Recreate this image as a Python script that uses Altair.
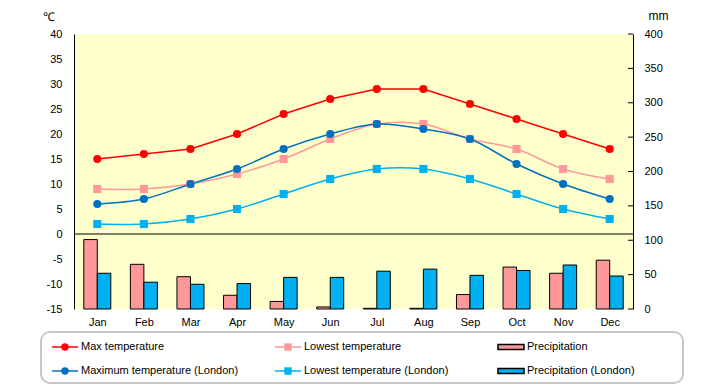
import altair as alt
import pandas as pd

months = ["Jan", "Feb", "Mar", "Apr", "May", "Jun", "Jul", "Aug", "Sep", "Oct", "Nov", "Dec"]
max_temp = [15, 16, 17, 20, 24, 27, 29, 29, 26, 23, 20, 17]
low_temp = [9, 9, 10, 12, 15, 19, 22, 22, 19, 17, 13, 11]
ldn_max = [6, 7, 10, 13, 17, 20, 22, 21, 19, 14, 10, 7]
ldn_low = [2, 2, 3, 5, 8, 11, 13, 13, 11, 8, 5, 3]
precip = [101, 65, 47, 20, 11, 3, 1, 1, 21, 61, 52, 71]
ldn_precip = [52, 39, 36, 37, 46, 46, 55, 58, 49, 56, 64, 48]

temp_series = ["Max temperature", "Lowest temperature",
               "Maximum temperature (London)", "Lowest temperature (London)"]
temp_colors = ["#FF0000", "#FF9999", "#0070C0", "#00B0F0"]
temp_shapes = ["circle", "square", "circle", "square"]
precip_series = ["Precipitation", "Precipitation (London)"]
precip_colors = ["#FF9999", "#00B0F0"]
temp_ticks = list(range(-15, 45, 5))
precip_ticks = list(range(0, 450, 50))

W, H = 559, 275
FONT = "Liberation Sans"

temp_rows = []
for si, (s, vals) in enumerate(zip(temp_series, [max_temp, low_temp, ldn_max, ldn_low])):
    for m, v in zip(months, vals):
        temp_rows.append({"month": m, "series": s, "value": v, "ord": si})
temp_df = pd.DataFrame(temp_rows)

precip_rows = []
for s, vals in zip(precip_series, [precip, ldn_precip]):
    for m, v in zip(months, vals):
        precip_rows.append({"month": m, "series": s, "value": v})
precip_df = pd.DataFrame(precip_rows)

# ---- precipitation bars (right axis)
bx = alt.X("month:N", sort=months,
           scale=alt.Scale(type="band", domain=months, paddingInner=0, paddingOuter=0),
           axis=None)
py_scale = alt.Scale(domain=[0, 400], nice=False, zero=True)
py_axis = alt.Axis(orient="right", values=precip_ticks, ticks=False, grid=False,
                   labelOverlap=False, labelFlush=False,
                   domainColor="black", domainWidth=1, labelPadding=11,
                   labelFontSize=11, labelFont=FONT, labelColor="black",
                   title="mm", titleAngle=0, titleX=25, titleY=-15,
                   titleAlign="center", titleBaseline="alphabetic",
                   titleFontSize=12, titleFont=FONT, titleFontWeight="normal",
                   titleColor="black")
bars = alt.Chart(precip_df).mark_bar(stroke="black", strokeWidth=1).encode(
    x=bx,
    xOffset=alt.XOffset("series:N", sort=precip_series,
                        scale=alt.Scale(domain=precip_series, paddingInner=0, paddingOuter=0.725)),
    y=alt.Y("value:Q", scale=py_scale, axis=py_axis),
    fill=alt.Fill("series:N", scale=alt.Scale(domain=precip_series, range=precip_colors),
                  legend=None),
)
rtick_df = pd.DataFrame({"value": precip_ticks})
rticks = alt.Chart(rtick_df).mark_rule(color="black", strokeWidth=1).encode(
    y=alt.Y("value:Q", scale=py_scale, axis=py_axis),
    x=alt.value(W - 5),
    x2=alt.value(W),
)
bar_group = alt.layer(bars, rticks)

# ---- temperature lines (left axis)
tx_axis = alt.Axis(orient="bottom", ticks=False, domain=False, labelAngle=0,
                   labelOverlap=False, labelPadding=7, labelFontSize=11, labelFont=FONT,
                   labelColor="black", title=None)
tx = alt.X("month:N", sort=months,
           scale=alt.Scale(type="point", domain=months, padding=0.5), axis=tx_axis)
ty_scale = alt.Scale(domain=[-15, 40], nice=False, zero=False)
ty_axis = alt.Axis(orient="left", values=temp_ticks, ticks=False, grid=False,
                   labelOverlap=False, labelFlush=False, labelExpr="'' + datum.value",
                   domainColor="black", domainWidth=1, labelPadding=12,
                   labelFontSize=11, labelFont=FONT, labelColor="black",
                   title="℃", titleAngle=0, titleX=-26, titleY=-14,
                   titleAlign="center", titleBaseline="alphabetic",
                   titleFontSize=12, titleFont=FONT, titleFontWeight="normal",
                   titleColor="black")
ty = alt.Y("value:Q", scale=ty_scale, axis=ty_axis)
tcolor = alt.Color("series:N", scale=alt.Scale(domain=temp_series, range=temp_colors),
                   legend=None)
zero_rule = alt.Chart(temp_df).transform_aggregate(
    value="min(ord)").mark_rule(color="black", strokeWidth=1).encode(y=ty)
# the local maximum line is drawn straight, the others smoothed
line_red = alt.Chart(temp_df).transform_filter(
    alt.datum.series == temp_series[0]).mark_line(strokeWidth=1.5).encode(
    x=tx, y=ty, color=tcolor)
lines_smooth = alt.Chart(temp_df).transform_filter(
    alt.datum.series != temp_series[0]).mark_line(
    interpolate="catmull-rom", strokeWidth=1.5).encode(
    x=tx, y=ty, color=tcolor, detail="series:N", order=alt.Order("ord:Q"))
points = alt.Chart(temp_df).mark_point(filled=True, opacity=1, size=66, strokeWidth=0).encode(
    x=tx, y=ty,
    color=tcolor,
    shape=alt.Shape("series:N", scale=alt.Scale(domain=temp_series, range=temp_shapes),
                    legend=None),
    order=alt.Order("ord:Q"))
temp_group = alt.layer(zero_rule, line_red, lines_smooth, points)

# ---- custom legend below the plot
leg_labels = [temp_series[0], temp_series[1], precip_series[0],
              temp_series[2], temp_series[3], precip_series[1]]
leg_colors = [temp_colors[0], temp_colors[1], precip_colors[0],
              temp_colors[2], temp_colors[3], precip_colors[1]]
leg_kinds = ["circle", "square", "bar", "circle", "square", "bar"]
leg_df = pd.DataFrame({
    "label": leg_labels,
    "color": leg_colors,
    "kind": leg_kinds,
    "col": [i % 3 for i in range(6)],
    "row": [i // 3 for i in range(6)],
})
lxs = alt.Scale(domain=[0, 2], range=[-22, 424])
lys = alt.Scale(domain=[0, 1], range=[313, 337])
lx = alt.X("col:Q", scale=lxs, axis=None)
ly = alt.Y("row:Q", scale=lys, axis=None)
base = alt.Chart(leg_df)
box = alt.Chart(alt.Data(values=[{}])).mark_rect(
    fill="white", stroke="#C8C8C8", strokeWidth=2, cornerRadius=9).encode(
    x=alt.value(-33), x2=alt.value(609), y=alt.value(298), y2=alt.value(349))
leg_lines = base.transform_filter("datum.kind != 'bar'").mark_rule(
    strokeWidth=1.5, x2Offset=26).encode(
    x=lx, x2="col:Q", y=ly, color=alt.Color("color:N", scale=None))
leg_pts = base.transform_filter("datum.kind != 'bar'").mark_point(
    filled=True, opacity=1, size=55, strokeWidth=0, xOffset=13).encode(
    x=lx, y=ly, color=alt.Color("color:N", scale=None),
    shape=alt.Shape("kind:N", scale=None))
leg_bars = base.transform_filter("datum.kind == 'bar'").mark_rect(
    stroke="black", strokeWidth=1.5, x2Offset=26, yOffset=-2.5, y2Offset=2.5).encode(
    x=lx, x2="col:Q", y=ly, y2="row:Q", fill=alt.Fill("color:N", scale=None))
leg_text = base.mark_text(align="left", baseline="middle", dx=29, fontSize=11,
                          font=FONT, color="black").encode(x=lx, y=ly, text="label:N")
legend_group = alt.layer(box, leg_lines, leg_pts, leg_bars, leg_text)

chart = alt.layer(bar_group, temp_group, legend_group).resolve_scale(
    x="independent", y="independent", color="independent", fill="independent",
    shape="independent"
).properties(
    width=W, height=H,
    padding={"left": 66, "top": 26, "right": 79, "bottom": 76},
    autosize=alt.AutoSizeParams(type="none"),
).configure_view(fill="#FFFFCC", stroke=None).configure_axis(
    labelOverlap=False, labelFlush=False)

chart.save("out.html", embed_options={"renderer": "svg", "actions": False})
